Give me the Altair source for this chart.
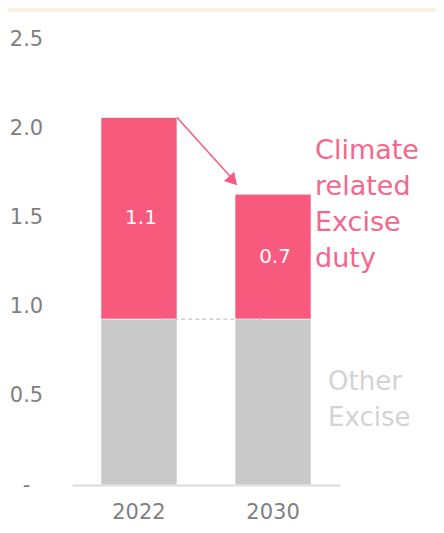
import altair as alt
import pandas as pd

# ---- data ----
years = ["2022", "2030"]
other_excise = [0.93, 0.93]
climate_excise = [1.13, 0.70]
climate_labels = ["1.1", "0.7"]
y_ticks = [0, 0.5, 1.0, 1.5, 2.0, 2.5]

PINK = "#F85A7E"
PINK_TXT = "#F7668A"
GREY = "#C9C9C9"
FONT = "DejaVu Sans"

W, H = 268, 446

bars = pd.DataFrame({
    "year": years + years,
    "series": ["Other Excise"] * 2 + ["Climate related Excise duty"] * 2,
    "y0": [0.0, 0.0] + other_excise,
    "y1": other_excise + [o + c for o, c in zip(other_excise, climate_excise)],
})
bars["mid"] = (bars["y0"] + bars["y1"]) / 2
bars["label"] = ["", ""] + climate_labels

xscale = alt.Scale(domain=years, paddingInner=0.433, paddingOuter=0.216)
yscale = alt.Scale(domain=[0, 2.5], nice=False)

base = alt.Chart(bars)

bar_layer = base.mark_bar(stroke="white", strokeWidth=0.6).encode(
    x=alt.X("year:N", scale=xscale, sort=years,
            axis=alt.Axis(title=None, labelAngle=0, ticks=False, domainColor="#D9D9D9",
                          domainWidth=2, labelFont=FONT, labelFontSize=21,
                          labelColor="#7F7F7F", labelPadding=27, labelBaseline="middle")),
    y=alt.Y("y0:Q", scale=yscale,
            axis=alt.Axis(title=None, values=y_ticks, grid=False, domain=False, ticks=False,
                          labelExpr="datum.value == 0 ? '-' : format(datum.value, '.1f')",
                          labelFont=FONT, labelFontSize=21, labelColor="#7F7F7F",
                          labelAlign="center", labelPadding=46, labelBaseline="middle")),
    y2="y1:Q",
    color=alt.Color("series:N",
                    scale=alt.Scale(domain=["Other Excise", "Climate related Excise duty"],
                                    range=[GREY, PINK]),
                    legend=None),
)

seg_labels = base.transform_filter("datum.label != ''").mark_text(
    font=FONT, fontSize=20, color="white", baseline="middle", dx=2
).encode(
    x=alt.X("year:N", scale=xscale, sort=years),
    y=alt.Y("mid:Q", scale=yscale),
    text="label:N",
)

# connector dashed line between "Other Excise" tops
dash_df = pd.DataFrame({"a": [years[0]], "b": [years[1]], "y": [other_excise[0]]})
dash = alt.Chart(dash_df).mark_rule(color="#C4C4C4", strokeDash=[4, 3], strokeWidth=1.2).encode(
    x=alt.X("a:N", scale=xscale, bandPosition=0.78),
    x2=alt.X2("b:N", bandPosition=0.35),
    y=alt.Y("y:Q", scale=yscale),
)

# arrow from 2022 total to 2030 total
top22 = other_excise[0] + climate_excise[0]
top30 = other_excise[1] + climate_excise[1]
arrow_df = pd.DataFrame({"a": [years[0]], "b": [years[1]], "y": [top22], "y2": [top30 + 0.07]})
arrow_line = alt.Chart(arrow_df).mark_rule(color=PINK, strokeWidth=1.5).encode(
    x=alt.X("a:N", scale=xscale, bandPosition=1),
    x2=alt.X2("b:N", bandPosition=0),
    y=alt.Y("y:Q", scale=yscale),
    y2="y2:Q",
)
arrow_head = alt.Chart(arrow_df).mark_point(
    shape="triangle-up", filled=True, color=PINK, size=190, angle=138, opacity=1,
    xOffset=-2, yOffset=-1
).encode(
    x=alt.X("b:N", scale=xscale, bandPosition=0),
    y=alt.Y("y2:Q", scale=yscale),
)

# series annotations
ann_df = pd.DataFrame({
    "year": [years[1], years[1]],
    "y": [1.83, 0.535],
    "txt": ["Climate\nrelated\nExcise\nduty", "Other\nExcise"],
})
ann1 = alt.Chart(ann_df.iloc[[0]]).mark_text(
    font=FONT, fontSize=27, align="left", baseline="alphabetic", lineBreak="\n",
    lineHeight=36, dx=4, color=PINK_TXT
).encode(
    x=alt.X("year:N", scale=xscale, bandPosition=1),
    y=alt.Y("y:Q", scale=yscale),
    text="txt:N",
)
ann2 = alt.Chart(ann_df.iloc[[1]]).mark_text(
    font=FONT, fontSize=26, align="left", baseline="alphabetic", lineBreak="\n",
    lineHeight=36, dx=17, color="#D3D3D3"
).encode(
    x=alt.X("year:N", scale=xscale, bandPosition=1),
    y=alt.Y("y:Q", scale=yscale),
    text="txt:N",
)

# cream band at the very top of the page
band = alt.Chart(pd.DataFrame({"k": [0]})).mark_rect(color="#FBF2E1").encode(
    x=alt.value(-64), x2=alt.value(W + 96), y=alt.value(-31), y2=alt.value(-27)
)

chart = alt.layer(band, bar_layer, dash, seg_labels, arrow_line, arrow_head, ann1, ann2).properties(
    width=W, height=H,
    autosize=alt.AutoSizeParams(type="none"),
    padding={"left": 64, "top": 31, "right": 96, "bottom": 40},
).configure_view(stroke=None)

chart.save("out.html", embed_options={"renderer": "svg", "actions": False})
